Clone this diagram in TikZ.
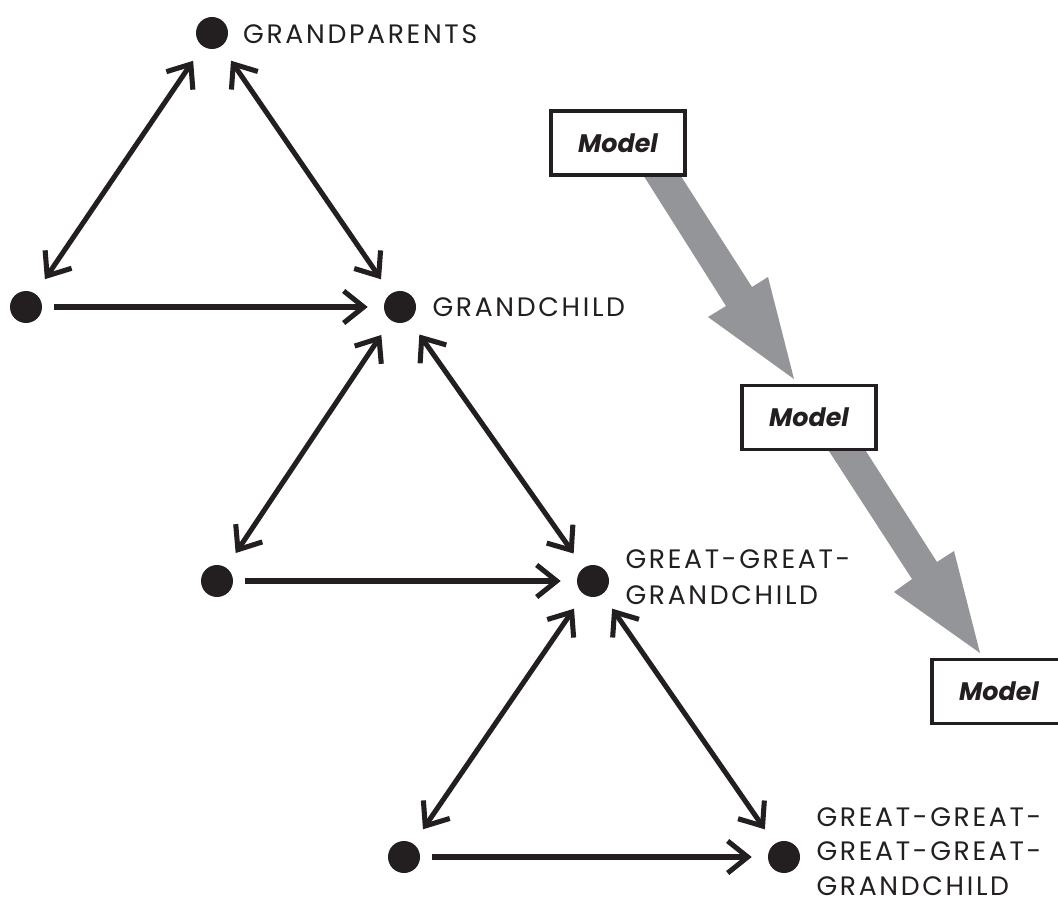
\documentclass[tikz,border=0pt]{standalone}
\usepackage{fontspec}
\setmainfont{Poppins}
\newfontfamily\lblfont[LetterSpace=10]{Poppins}
\usetikzlibrary{arrows.meta}
\definecolor{ink}{HTML}{231F20}
\definecolor{arrowgray}{HTML}{939598}
\begin{document}
\begin{tikzpicture}[x=0.75pt,y=-0.75pt,
  dot/.style={circle,fill=ink,inner sep=0pt,minimum size=24pt},
  lbl/.style={anchor=west,inner sep=0pt,align=left,font=\lblfont\fontsize{20}{26.6}\selectfont,text=ink},
  single/.style={draw=ink,line width=3.8pt,-{Straight Barb[length=15pt,width=24pt]},shorten >=12pt,shorten <=9pt},
  double/.style={draw=ink,line width=3.8pt,{Straight Barb[length=15pt,width=24pt]}-{Straight Barb[length=15pt,width=24pt]},shorten >=13pt,shorten <=13pt},
  modelbox/.style={draw=ink,line width=2.8pt,fill=white,minimum width=100pt,minimum height=48pt,inner sep=0pt,font=\fontsize{19}{24}\selectfont\bfseries\itshape,text=ink},
  bigarrow/.style={fill=arrowgray,draw=none}]
\useasboundingbox (0,0) rectangle (1058,902);
\clip (0,0) rectangle (1058,902);

% dots
\node[dot] (gp) at (212,33) {};
\node[dot] (a1) at (26,307) {};
\node[dot] (gc) at (400,307) {};
\node[dot] (a2) at (217,581) {};
\node[dot] (g2) at (593,581) {};
\node[dot] (a3) at (404,857) {};
\node[dot] (g4) at (784,857) {};

% labels
\node[lbl] (lgp) at ([xshift=11pt,yshift=-1pt]gp.east) {GRANDPARENTS};
\node[lbl] (lgc) at ([xshift=12pt]gc.east) {GRANDCHILD};
\node[lbl] (lg2) at ([xshift=12pt,yshift=3pt]g2.east) {GREAT-GREAT-\\GRANDCHILD};
\node[lbl,font=\lblfont\fontsize{20}{26}\selectfont] (lg4) at ([xshift=12pt,yshift=4pt]g4.east) {GREAT-GREAT-\\GREAT-GREAT-\\GRANDCHILD};

% connectors
\draw[double] (gp) -- (a1);
\draw[double] (gp) -- (gc);
\draw[single] (a1) -- (gc);
\draw[double] (gc) -- (a2);
\draw[double] (gc) -- (g2);
\draw[single] (a2) -- (g2);
\draw[double] (g2) -- (a3);
\draw[double] (g2) -- (g4);
\draw[single] (a3) -- (g4);

% gray arrows
\fill[bigarrow] (640,170) -- (726,306) -- (708,317) -- (794,379) -- (768,277) -- (752,287) -- (677,170) -- cycle;
\fill[bigarrow] (825,445) -- (912,579) -- (894,592) -- (980,653) -- (954,551) -- (937,562) -- (862,445) -- cycle;

% model boxes
\node[modelbox] (m1) at (618,143) {Model};
\node[modelbox] (m2) at (809,417.5) {Model};
\node[modelbox] (m3) at (999,691.5) {Model};
\end{tikzpicture}
\end{document}
